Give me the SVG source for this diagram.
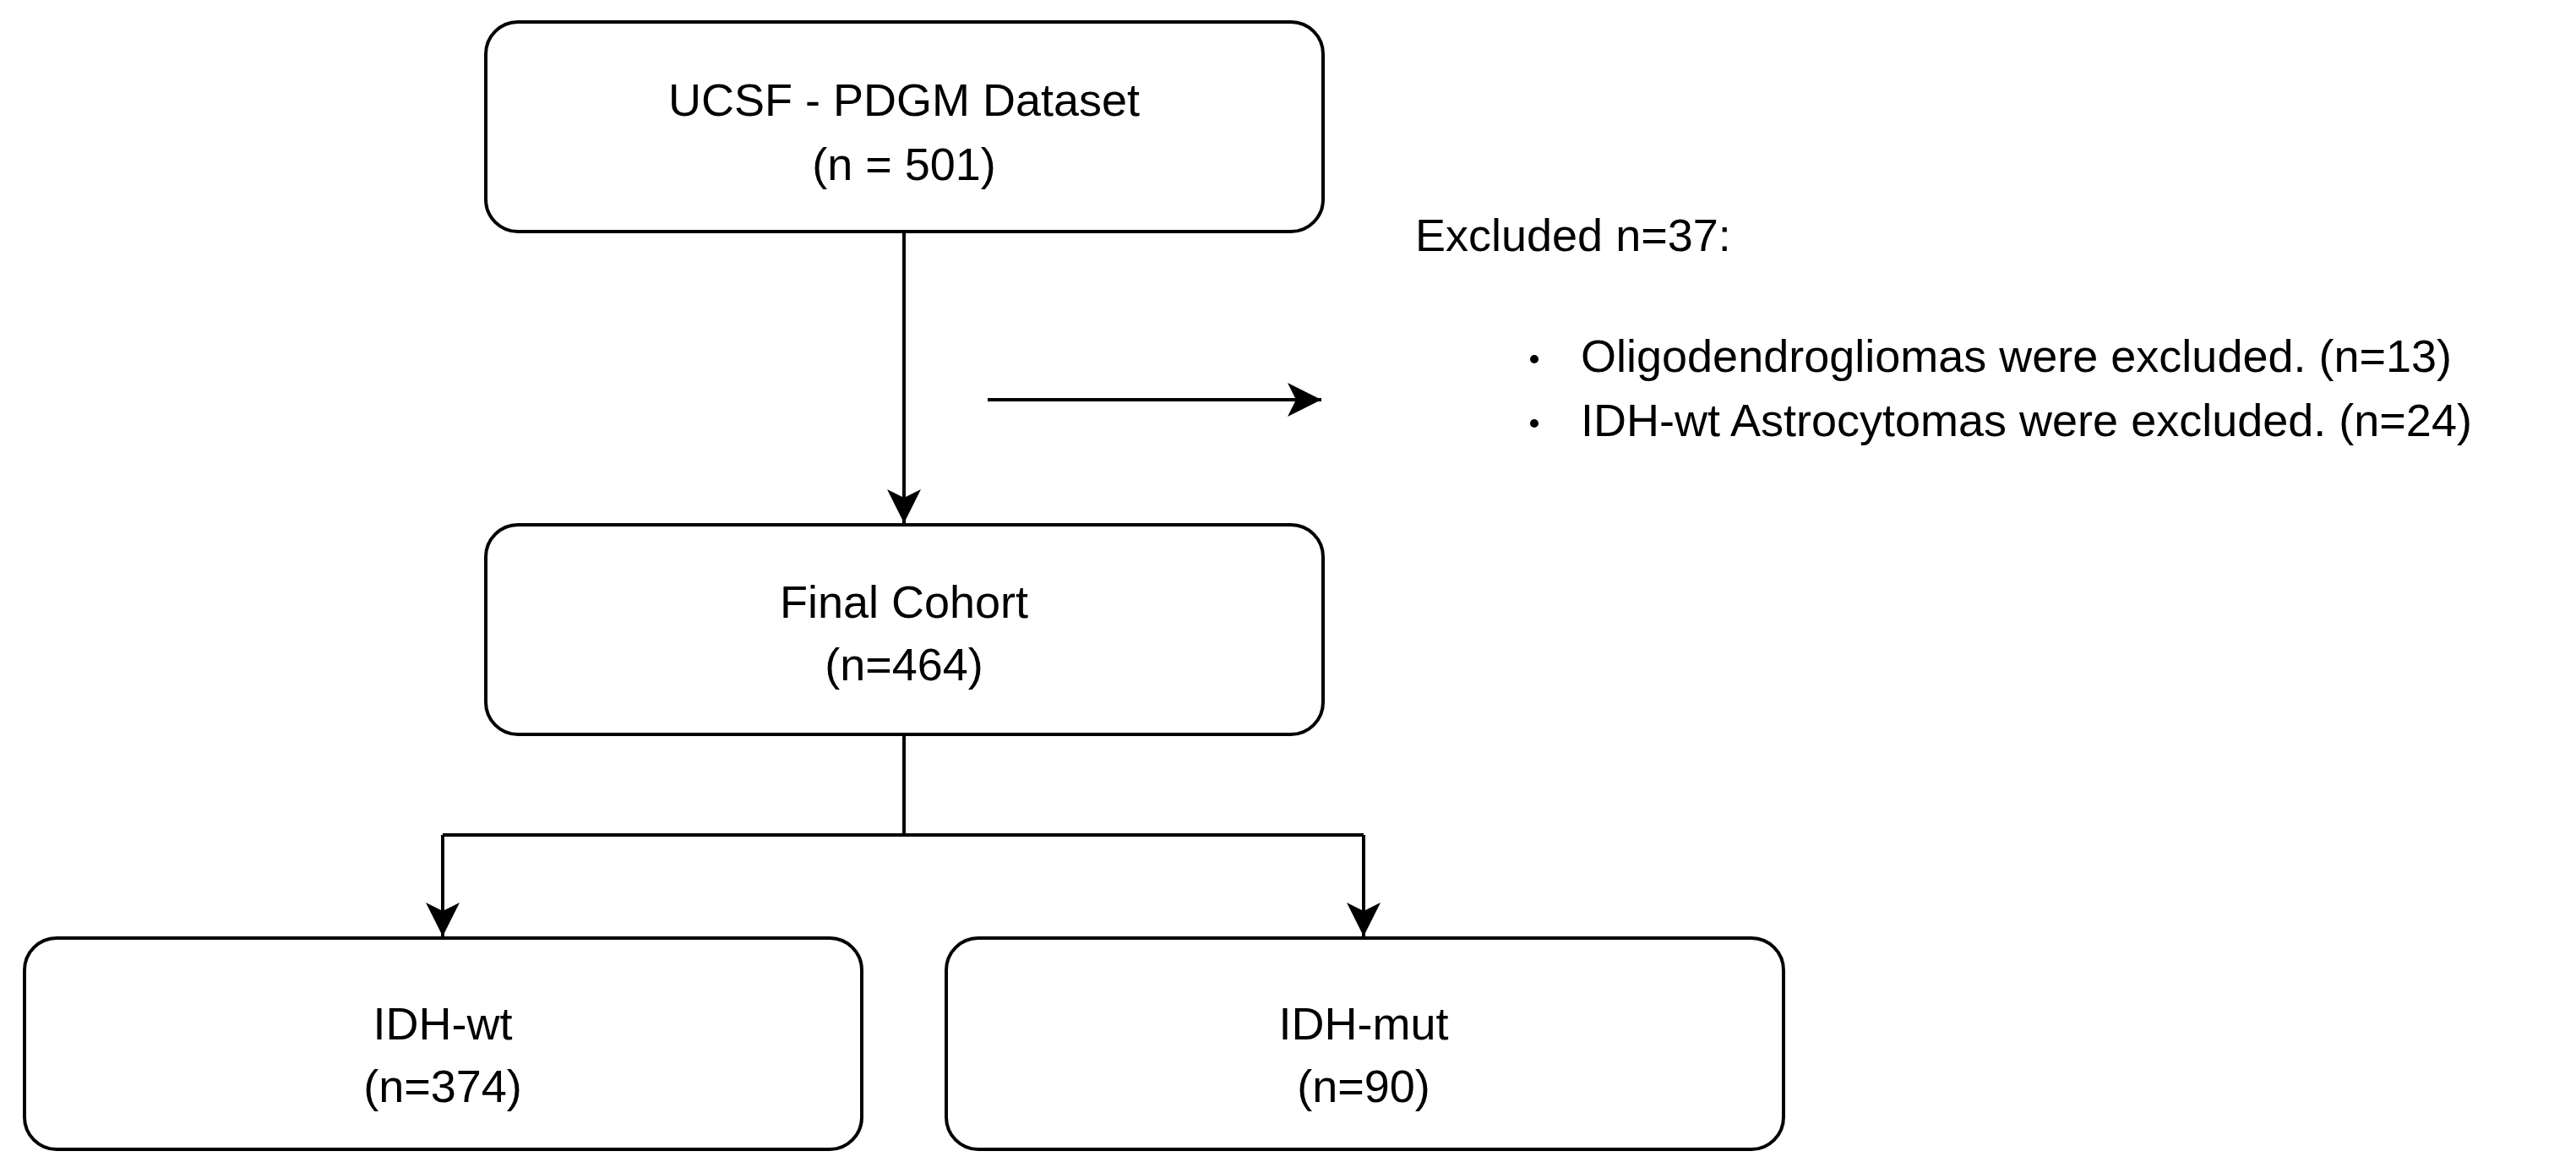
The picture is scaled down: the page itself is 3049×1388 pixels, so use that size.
<svg xmlns="http://www.w3.org/2000/svg" width="3049" height="1388" viewBox="0 0 3049 1388">
<defs>
<style>
.box{fill:#fff;stroke:#000;stroke-width:4}
.t{font-family:"Liberation Sans",Arial,sans-serif;font-size:54px;fill:#000}
.c{text-anchor:middle}
.ln{fill:none;stroke:#000;stroke-width:4}
</style>
<marker id="ar" viewBox="0 0 20 20" refX="18" refY="10" markerWidth="10" markerHeight="10" markerUnits="userSpaceOnUse" orient="auto" overflow="visible">
<path d="M0,0 L40,10 L0,20 L10,10 Z" transform="scale(1)" fill="#000"/>
</marker>
<marker id="a" markerUnits="userSpaceOnUse" viewBox="0 0 40 40" refX="40" refY="20" markerWidth="40" markerHeight="40" orient="auto">
<path d="M0,0 L40,20 L0,40 L10,20 Z" fill="#000"/>
</marker>
</defs>
<g id="connectors">
<path class="ln" d="M1070,275 V619" marker-end="url(#a)"/>
<path class="ln" d="M1169,473 H1564" marker-end="url(#a)"/>
<path class="ln" d="M1070,869 V988 M524,988 H1614"/>
<path class="ln" d="M524,988 V1108" marker-end="url(#a)"/>
<path class="ln" d="M1614,988 V1108" marker-end="url(#a)"/>
</g>
<g id="n1"><rect class="box" x="575" y="26" width="991" height="248" rx="38"/>
<text class="t c" x="1070" y="137">UCSF - PDGM Dataset</text><text class="t c" x="1070" y="213">(n = 501)</text></g>
<g id="n2"><rect class="box" x="575" y="621" width="991" height="248" rx="38"/>
<text class="t c" x="1070" y="731">Final Cohort</text><text class="t c" x="1070" y="805">(n=464)</text></g>
<g id="n3"><rect class="box" x="29" y="1110" width="991" height="250" rx="38"/>
<text class="t c" x="524" y="1230">IDH-wt</text><text class="t c" x="524" y="1304">(n=374)</text></g>
<g id="n4"><rect class="box" x="1120" y="1110" width="991" height="250" rx="38"/>
<text class="t c" x="1614" y="1230">IDH-mut</text><text class="t c" x="1614" y="1304">(n=90)</text></g>
<g id="excl">
<text class="t" x="1675" y="297">Excluded n=37:</text>
<circle cx="1816" cy="425" r="5"/><circle cx="1816" cy="501" r="5"/>
<text class="t" x="1871" y="440">Oligodendrogliomas were excluded. (n=13)</text>
<text class="t" x="1871" y="516">IDH-wt Astrocytomas were excluded. (n=24)</text>
</g>
</svg>
